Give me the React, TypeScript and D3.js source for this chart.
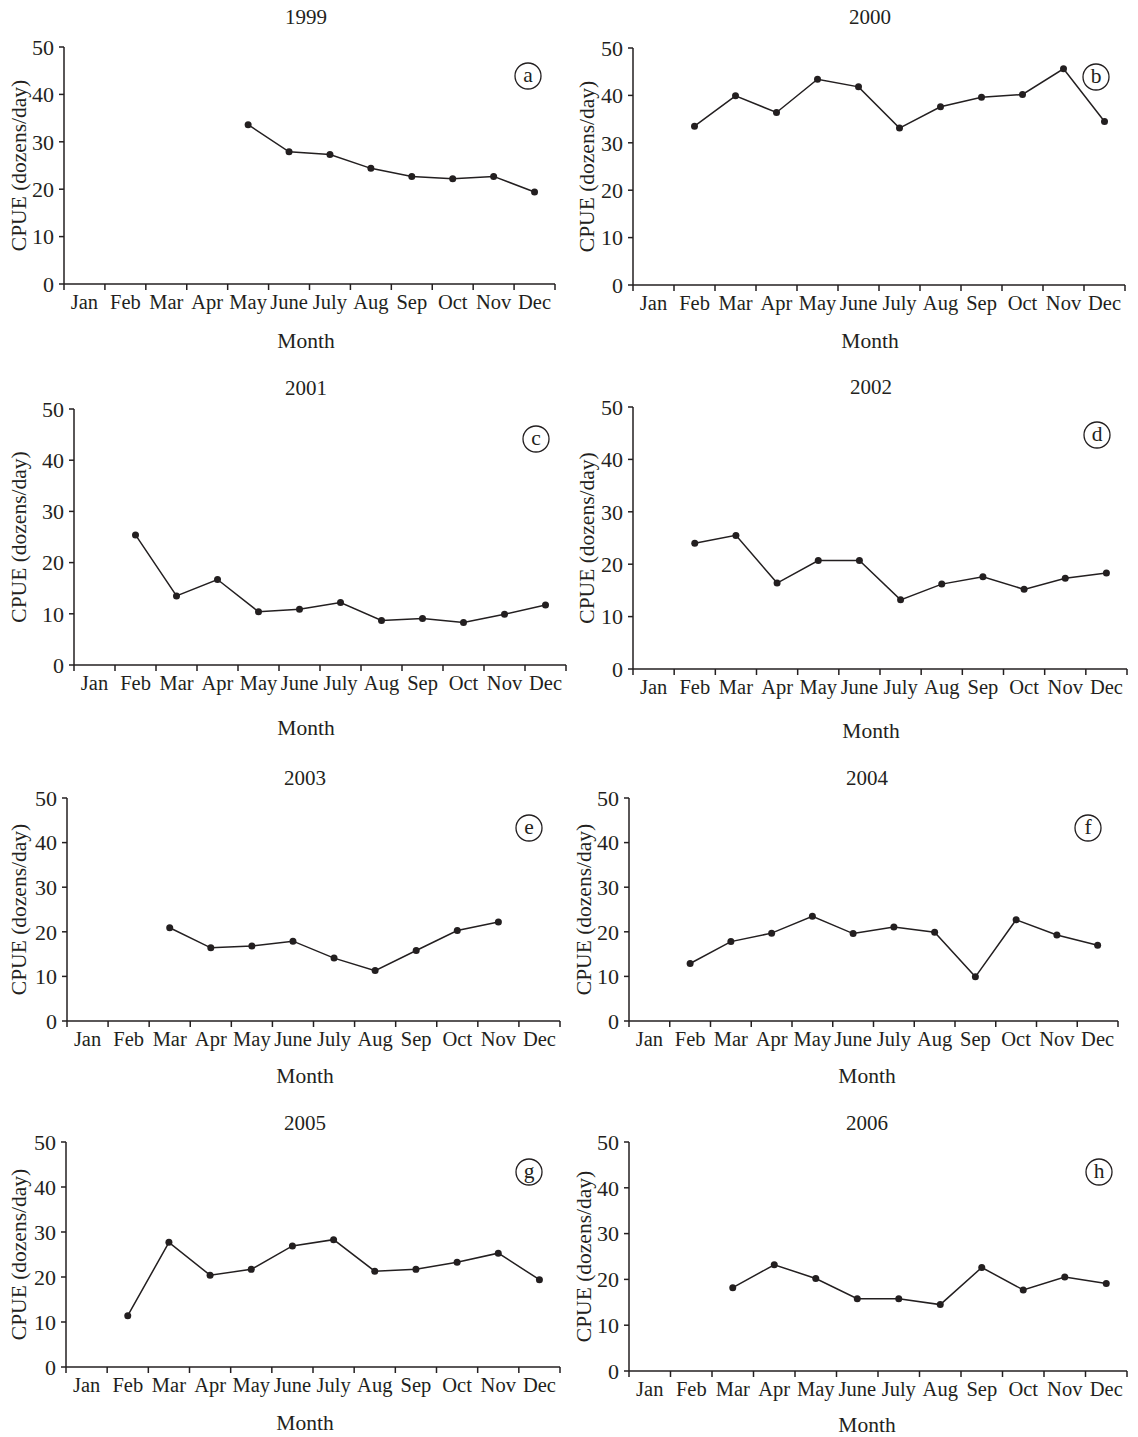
import React from "react";
import * as d3 from "d3";

const months = ["Jan", "Feb", "Mar", "Apr", "May", "June", "July", "Aug", "Sep", "Oct", "Nov", "Dec"];
const yTicks = [0, 10, 20, 30, 40, 50];

// CPUE (dozens/day), null = no fishing that month
const cpue1999 = [null, null, null, null, 33.6, 27.9, 27.3, 24.4, 22.7, 22.2, 22.7, 19.4];
const cpue2000 = [null, 33.5, 39.9, 36.4, 43.4, 41.8, 33.1, 37.6, 39.6, 40.2, 45.6, 34.5];
const cpue2001 = [null, 25.4, 13.5, 16.7, 10.4, 10.9, 12.2, 8.7, 9.1, 8.3, 9.9, 11.7];
const cpue2002 = [null, 24.0, 25.5, 16.4, 20.7, 20.7, 13.2, 16.2, 17.6, 15.2, 17.3, 18.3];
const cpue2003 = [null, null, 20.9, 16.4, 16.8, 17.9, 14.1, 11.3, 15.8, 20.3, 22.2, null];
const cpue2004 = [null, 12.9, 17.8, 19.7, 23.5, 19.6, 21.1, 19.9, 9.9, 22.7, 19.3, 17.0];
const cpue2005 = [null, 11.4, 27.7, 20.4, 21.7, 26.9, 28.3, 21.3, 21.7, 23.3, 25.3, 19.4];
const cpue2006 = [null, null, 18.2, 23.2, 20.2, 15.8, 15.8, 14.5, 22.6, 17.7, 20.5, 19.1];

const years = ["1999", "2000", "2001", "2002", "2003", "2004", "2005", "2006"];
const tags = ["a", "b", "c", "d", "e", "f", "g", "h"];
const series = [cpue1999, cpue2000, cpue2001, cpue2002, cpue2003, cpue2004, cpue2005, cpue2006];

const frames = [
  { x0: 64, x1: 555, top: 47, base: 284, tx: 306, ty: 17, my: 340, lx: 18, cx: 528, cy: 76 },
  { x0: 633, x1: 1125, top: 48, base: 285, tx: 870, ty: 17, my: 340, lx: 586, cx: 1096, cy: 77 },
  { x0: 74, x1: 566, top: 409, base: 665, tx: 306, ty: 388, my: 727, lx: 18, cx: 536, cy: 439 },
  { x0: 633, x1: 1127, top: 407, base: 669, tx: 871, ty: 387, my: 730, lx: 586, cx: 1097, cy: 435 },
  { x0: 67, x1: 560, top: 798, base: 1021, tx: 305, ty: 778, my: 1075, lx: 18, cx: 529, cy: 828 },
  { x0: 629, x1: 1118, top: 798, base: 1021, tx: 867, ty: 778, my: 1075, lx: 583, cx: 1088, cy: 828 },
  { x0: 66, x1: 560, top: 1142, base: 1367, tx: 305, ty: 1123, my: 1422, lx: 18, cx: 529, cy: 1172 },
  { x0: 629, x1: 1127, top: 1142, base: 1371, tx: 867, ty: 1123, my: 1424, lx: 583, cx: 1099, cy: 1172 },
];

const ink = "#231f20";
const font = "'Liberation Serif', 'DejaVu Serif', serif";
const fs = 21.5;

function Panel({ f, data, year, tag }: any) {
  const x = d3.scaleLinear().domain([0, 12]).range([f.x0, f.x1]);
  const y = d3.scaleLinear().domain([0, 50]).range([f.base, f.top]);
  const pts = data
    .map((v: number | null, i: number) => ({ v, i }))
    .filter((d: any) => d.v !== null);
  const line = d3
    .line<any>()
    .x((d) => x(d.i + 0.5))
    .y((d) => y(d.v));

  return (
    <g>
      <text x={f.tx} y={f.ty} dy="0.35em" textAnchor="middle" fontSize={21}>
        {year}
      </text>
      {/* y axis */}
      <line x1={f.x0} x2={f.x0} y1={f.top} y2={f.base} stroke={ink} strokeWidth={1.5} />
      {yTicks.map((t) => (
        <g key={t}>
          <line x1={f.x0 - 5} x2={f.x0} y1={y(t)} y2={y(t)} stroke={ink} strokeWidth={1.5} />
          <text x={f.x0 - 10} y={y(t)} dy="0.35em" textAnchor="end" fontSize={22}>
            {t}
          </text>
        </g>
      ))}
      <text
        transform={`translate(${f.lx},${(f.top + f.base) / 2}) rotate(-90)`}
        dy="0.35em"
        textAnchor="middle"
        fontSize={fs}
      >
        CPUE (dozens/day)
      </text>
      {/* x axis */}
      <line x1={f.x0} x2={f.x1} y1={f.base} y2={f.base} stroke={ink} strokeWidth={1.5} />
      {d3.range(13).map((i) => (
        <line key={i} x1={x(i)} x2={x(i)} y1={f.base} y2={f.base + 6} stroke={ink} strokeWidth={1.5} />
      ))}
      {months.map((m, i) => (
        <text key={m} x={x(i + 0.5)} y={f.base + 25} textAnchor="middle" fontSize={20.5}>
          {m}
        </text>
      ))}
      <text x={f.tx} y={f.my} dy="0.35em" textAnchor="middle" fontSize={fs}>
        Month
      </text>
      {/* series */}
      <path d={line(pts) || ""} fill="none" stroke={ink} strokeWidth={1.5} />
      {pts.map((d: any) => (
        <circle key={d.i} cx={x(d.i + 0.5)} cy={y(d.v)} r={3.5} fill={ink} />
      ))}
      {/* panel tag */}
      <circle cx={f.cx} cy={f.cy} r={13} fill="none" stroke={ink} strokeWidth={1.3} />
      <text x={f.cx} y={f.cy} dy="0.3em" textAnchor="middle" fontSize={fs}>
        {tag}
      </text>
    </g>
  );
}

export default function App() {
  return (
    <svg
      width={1138}
      height={1437}
      style={{ position: "absolute", left: 0, top: 0, background: "#fff" }}
      fontFamily={font}
      fill={ink}
    >
      {frames.map((f, k) => (
        <Panel key={years[k]} f={f} data={series[k]} year={years[k]} tag={tags[k]} />
      ))}
    </svg>
  );
}
